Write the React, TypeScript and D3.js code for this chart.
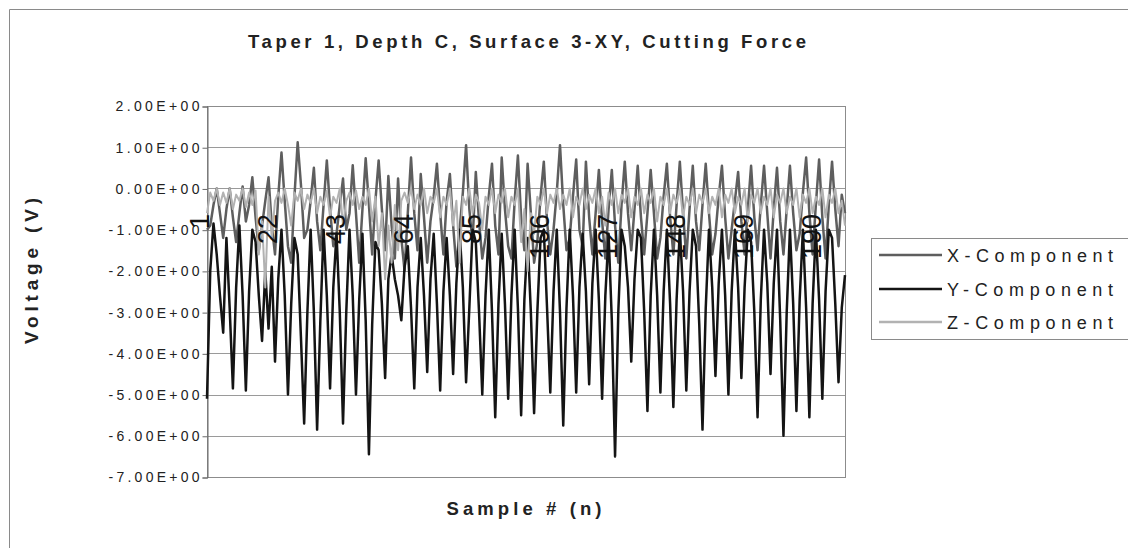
import React, { useEffect, useRef } from "react";
import * as d3 from "d3";

const width = 1128;
const height = 548;
const margin = { top: 106, right: 283, bottom: 71, left: 207 };

const chartTitle = "Taper 1, Depth C, Surface 3-XY, Cutting Force";
const xTitle = "Sample # (n)";
const yTitle = "Voltage (V)";

const seriesNames = ["X-Component", "Y-Component", "Z-Component"];
const seriesColors = ["#5e5e5e", "#141414", "#b2b2b2"];

const yTickValues = [2, 1, 0, -1, -2, -3, -4, -5, -6, -7];
const yTickLabels = [
  "2.00E+00", "1.00E+00", "0.00E+00", "-1.00E+00", "-2.00E+00",
  "-3.00E+00", "-4.00E+00", "-5.00E+00", "-6.00E+00", "-7.00E+00",
];
const xTickSamples = [1, 22, 43, 64, 85, 106, 127, 148, 169, 190];

// one value per sample
const xComponent = [
  -1.0, -0.9, -0.4, 0.0, -0.6, -1.2, -0.5, 0.0, -0.7, -1.3,
  -0.6, 0.05, -0.8, -0.4, 0.27, -0.7, -1.5, -0.9, -0.3, 0.27,
  -0.9, -1.6, -0.2, 0.87, -0.3, -1.4, -1.8, -0.2, 1.12, 0.1,
  -1.2, -1.0, -0.3, 0.5, -0.8, -1.5, -0.4, 0.68, -0.5, -1.4,
  -1.1, -0.4, 0.24, -1.0, -0.6, 0.56, -0.6, -1.8, -0.5, 0.73,
  -0.4, -1.6, -0.3, 0.68, -0.5, -1.5, 0.3, -0.9, -1.7, 0.24,
  -1.2, -2.0, -0.6, 0.75, -0.6, -1.5, 0.35, -0.7, -1.8, -0.8,
  -0.2, 0.6, -0.6, -1.6, -0.3, 0.35, -0.9, -1.9, -1.0, -0.1,
  1.05, -0.5, -1.3, 0.4, -0.8, -1.7, -1.2, -0.2, 0.6, -0.9,
  -1.6, 0.75, -0.5, -1.4, -1.7, -0.3, 0.8, -0.7, -1.5, 0.6,
  -0.6, -1.8, -1.3, -0.2, 0.65, -0.8, -1.6, -1.0, -0.1, 1.05,
  -0.4, -1.5, -1.2, -0.2, 0.7, -1.0, -1.4, 0.65, -0.7, -1.6,
  -0.6, 0.45, -0.8, -1.7, -0.5, 0.45, -0.9, -1.8, -0.4, 0.65,
  -0.6, -1.5, -0.5, 0.55, -0.7, -1.6, -0.6, 0.45, -0.6, -1.7,
  -1.2, -0.2, 0.6, -0.7, -1.6, -0.4, 0.65, -0.6, -1.7, -0.5,
  0.55, -0.8, -1.5, -0.4, 0.6, -0.6, -1.6, -1.1, -0.2, 0.55,
  -0.7, -1.7, -1.0, -0.3, 0.4, -0.8, -1.6, -0.5, 0.55, -0.7,
  -1.5, -0.4, 0.55, -0.6, -1.7, -0.5, 0.5, -0.8, -1.6, -0.5,
  0.55, -0.6, -1.5, -1.1, -0.1, 0.75, -0.6, -1.6, -0.4, 0.7,
  -0.7, -1.7, -0.4, 0.65, -0.5, -1.4, -0.15, -0.6,
];

const yComponent = [
  -5.1, -2.0, -0.85, -1.6, -2.6, -3.5, -1.2, -2.9, -4.85, -2.4,
  -0.9, -2.6, -4.9, -2.5, -1.0, -1.3, -2.6, -3.7, -2.0, -3.4,
  -1.9, -4.2, -2.2, -1.0, -2.6, -5.0, -2.8, -1.2, -1.6, -3.6,
  -5.7, -3.0, -1.0, -3.0, -5.85, -3.2, -1.0, -2.6, -4.85, -2.4,
  -1.1, -3.0, -5.7, -3.0, -1.0, -2.6, -5.0, -2.7, -1.1, -3.2,
  -6.45, -3.3, -1.3, -1.5, -2.8, -4.6, -2.2, -1.6, -2.2, -2.6,
  -3.2, -1.9, -1.4, -2.9, -4.85, -2.4, -1.2, -2.6, -4.45, -2.2,
  -1.1, -2.8, -4.9, -2.5, -1.2, -2.6, -4.5, -2.3, -1.0, -2.4,
  -4.7, -2.9, -1.0, -1.3, -3.0, -5.0, -2.6, -1.0, -3.0, -5.55,
  -2.8, -1.1, -2.8, -5.1, -2.6, -1.0, -2.9, -5.5, -2.7, -1.2,
  -3.0, -5.45, -3.0, -1.2, -1.0, -2.9, -4.95, -2.5, -1.0, -3.0,
  -5.75, -2.9, -1.0, -2.6, -4.95, -2.4, -1.1, -2.5, -4.75, -2.3,
  -1.0, -2.7, -5.1, -2.6, -1.1, -3.2, -6.5, -3.0, -1.0, -1.4,
  -2.4, -4.2, -2.2, -1.0, -1.2, -3.0, -5.4, -2.6, -1.0, -2.6,
  -4.95, -2.5, -1.0, -2.8, -5.3, -2.7, -1.0, -2.5, -4.9, -2.5,
  -1.0, -1.4, -3.3, -5.85, -2.9, -1.0, -2.4, -4.55, -2.3, -1.0,
  -2.6, -5.0, -2.5, -1.0, -2.4, -4.6, -2.4, -1.0, -1.3, -3.0,
  -5.55, -2.7, -1.0, -2.3, -4.5, -2.3, -1.0, -3.2, -6.0, -3.0,
  -1.0, -2.8, -5.4, -2.7, -1.0, -2.9, -5.55, -2.8, -1.0, -2.7,
  -5.1, -2.5, -1.0, -1.2, -2.8, -4.7, -2.9, -2.1,
];

const zComponent = [
  -0.6, -0.1, -0.3, 0.0, -0.4, -0.1, -0.35, 0.0, -0.5, -0.15,
  -0.3, 0.0, -0.45, -0.1, -0.4, -0.05, -1.6, -0.8, -2.4, -0.2,
  -1.2, -0.3, -0.1, -0.35, 0.0, -0.4, -0.9, -0.1, -0.3, 0.0,
  -0.5, -0.15, -0.35, 0.0, -0.6, -0.2, -0.4, -0.05, -0.7, -0.2,
  -0.35, 0.0, -0.9, -0.3, -0.1, -0.4, -0.05, -0.5, -0.2, -0.4,
  0.0, -0.8, -0.2, -1.4, -0.6, -2.2, -0.9, -1.8, -0.4, -1.5,
  -0.3, -0.1, -0.35, 0.0, -0.5, -0.15, -0.4, 0.0, -0.6, -0.2,
  -0.35, 0.0, -0.7, -0.2, -0.4, 0.0, -0.9, -0.3, -1.8, -0.2,
  -0.4, 0.0, -0.6, -0.15, -0.35, -1.0, -0.2, -0.4, 0.0, -0.6,
  -0.15, -0.35, 0.0, -0.7, -0.2, -0.4, 0.0, -1.3, -0.5, -2.0,
  -0.6, -1.1, -0.2, -0.4, 0.0, -0.6, -0.15, -0.35, 0.0, -0.5,
  -0.15, -0.4, 0.0, -0.7, -0.2, -0.4, 0.0, -0.5, -0.15, -0.35,
  0.0, -0.6, -0.2, -0.9, -0.1, -0.4, 0.0, -0.6, -0.15, -0.35,
  0.0, -0.7, -0.2, -0.4, 0.0, -0.6, -0.15, -0.35, 0.0, -0.8,
  -0.2, -0.4, 0.0, -0.6, -0.15, -0.35, 0.0, -0.7, -0.2, -0.4,
  0.0, -0.6, -0.15, -0.35, 0.0, -0.6, -0.2, -0.4, 0.0, -0.7,
  -0.15, -0.35, 0.0, -0.6, -0.2, -0.4, 0.0, -0.8, -0.15, -0.35,
  0.0, -0.6, -0.2, -0.4, 0.0, -0.7, -0.15, -0.35, 0.0, -0.6,
  -0.2, -0.4, 0.0, -0.7, -0.15, -0.35, 0.0, -0.6, -0.2, -0.4,
  0.0, -0.7, -0.15, -0.35, 0.0, -0.6, -0.3, -0.9,
];

const font = "'Liberation Sans', Arial, sans-serif";

const App = () => {
  const canvas = useRef(null);

  useEffect(() => {
    const svg = d3.select(canvas.current);
    svg.selectAll("*").remove();

    const samples = xComponent.map((_, i) => i + 1);
    const x = d3
      .scalePoint()
      .domain(samples)
      .range([margin.left, width - margin.right]);
    const y = d3
      .scaleLinear()
      .domain([-7, 2])
      .range([height - margin.bottom, margin.top]);

    // chart frame (only top/left edges show in the scan)
    svg.append("path")
      .attr("d", `M9.5,${height} V9.5 H${width}`)
      .attr("fill", "none")
      .attr("stroke", "#8a8a8a");

    // gridlines
    svg.append("g")
      .selectAll("line")
      .data(yTickValues)
      .join("line")
      .attr("x1", margin.left)
      .attr("x2", width - margin.right)
      .attr("y1", (d) => Math.round(y(d)) + 0.5)
      .attr("y2", (d) => Math.round(y(d)) + 0.5)
      .attr("stroke", "#9a9a9a");

    svg.append("rect")
      .attr("x", margin.left + 0.5)
      .attr("y", margin.top + 0.5)
      .attr("width", width - margin.right - margin.left)
      .attr("height", height - margin.bottom - margin.top)
      .attr("fill", "none")
      .attr("stroke", "#8c8c8c");

    // y axis
    const yAxis = svg.append("g")
      .attr("transform", `translate(${margin.left + 0.5},0.5)`)
      .call(
        d3.axisLeft(y)
          .tickValues(yTickValues)
          .tickSize(5)
          .tickFormat((d, i) => yTickLabels[i])
      );
    yAxis.select(".domain").attr("stroke", "#6a6a6a");
    yAxis.selectAll(".tick line").attr("stroke", "#6a6a6a");
    yAxis.selectAll(".tick text")
      .attr("x", -8)
      .attr("font-family", font)
      .attr("font-size", 14)
      .attr("fill", "#222")
      .attr("textLength", (d, i) => (yTickLabels[i].startsWith("-") ? 91 : 84))
      .attr("lengthAdjust", "spacing");

    // series
    const data = [xComponent, yComponent, zComponent];
    const line = d3
      .line()
      .x((d, i) => x(samples[i]))
      .y((d) => y(d));
    svg.append("g")
      .selectAll("path")
      .data(data)
      .join("path")
      .attr("d", (d) => line(d))
      .attr("fill", "none")
      .attr("stroke", (d, i) => seriesColors[i])
      .attr("stroke-width", (d, i) => (i === 2 ? 2 : 2.5))
      .attr("stroke-linejoin", "round");

    // category labels, rotated, hanging below the -1 gridline area
    svg.append("g")
      .selectAll("text")
      .data(xTickSamples)
      .join("text")
      .attr("transform", (d) => `translate(${x(d) - 7},214) rotate(-90)`)
      .attr("text-anchor", "end")
      .attr("dominant-baseline", "central")
      .attr("font-family", font)
      .attr("font-size", 27)
      .attr("fill", "#111")
      .text((d) => d);

    // titles
    svg.append("text")
      .attr("x", 527)
      .attr("y", 48)
      .attr("text-anchor", "middle")
      .attr("font-family", font)
      .attr("font-weight", "bold")
      .attr("font-size", 18.5)
      .attr("fill", "#222")
      .attr("textLength", 558)
      .attr("lengthAdjust", "spacing")
      .text(chartTitle);

    svg.append("text")
      .attr("x", 524)
      .attr("y", 515)
      .attr("text-anchor", "middle")
      .attr("font-family", font)
      .attr("font-weight", "bold")
      .attr("font-size", 18.5)
      .attr("fill", "#222")
      .attr("textLength", 155)
      .attr("lengthAdjust", "spacing")
      .text(xTitle);

    svg.append("text")
      .attr("transform", `translate(${38},${271}) rotate(-90)`)
      .attr("text-anchor", "middle")
      .attr("font-family", font)
      .attr("font-weight", "bold")
      .attr("font-size", 19)
      .attr("fill", "#222")
      .attr("textLength", 146)
      .attr("lengthAdjust", "spacing")
      .text(yTitle);

    // legend
    const legend = svg.append("g");
    legend.append("rect")
      .attr("x", 871.5)
      .attr("y", 238.5)
      .attr("width", 262)
      .attr("height", 101)
      .attr("fill", "#fff")
      .attr("stroke", "#8a8a8a");
    const rows = [255, 289, 322];
    const item = legend.selectAll("g.item")
      .data(seriesNames)
      .join("g")
      .attr("class", "item")
      .attr("transform", (d, i) => `translate(0,${rows[i]})`);
    item.append("line")
      .attr("x1", 879)
      .attr("x2", 942)
      .attr("stroke", (d, i) => seriesColors[i])
      .attr("stroke-width", 2.5);
    item.append("text")
      .attr("x", 947)
      .attr("y", 6.5)
      .attr("font-family", font)
      .attr("font-size", 18)
      .attr("fill", "#222")
      .attr("textLength", 166)
      .attr("lengthAdjust", "spacing")
      .text((d) => d);
  }, []);

  return (
    <svg
      ref={canvas}
      width={width}
      height={height}
      viewBox={`0 0 ${width} ${height}`}
      style={{ position: "absolute", left: 0, top: 0, background: "#fff" }}
    ></svg>
  );
};

export default App;
